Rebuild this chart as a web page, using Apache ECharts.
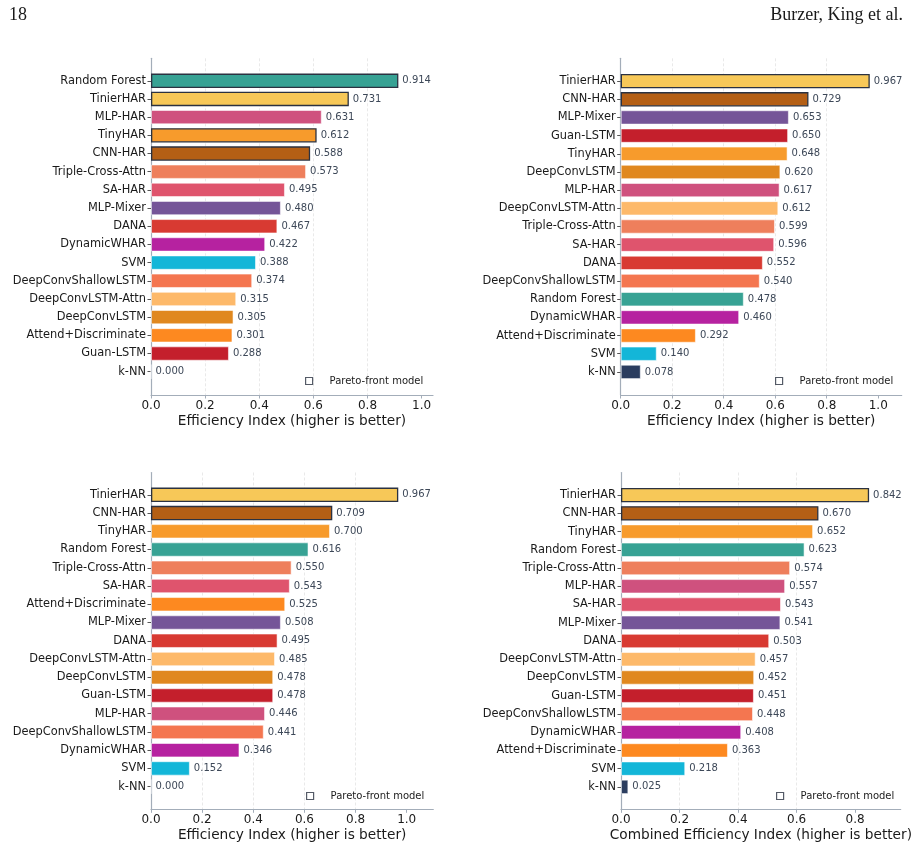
<!DOCTYPE html>
<html>
<head>
<meta charset="utf-8">
<script src="https://cdn.jsdelivr.net/npm/echarts@6/dist/echarts.min.js"></script>
<style>
  html, body { margin: 0; padding: 0; background: #fff; }
  #chart { width: 914px; height: 849px; }
</style>
</head>
<body>
<div id="chart"></div>
<script>
// ---- data ----
const tlNames = ['Random Forest', 'TinierHAR', 'MLP-HAR', 'TinyHAR', 'CNN-HAR', 'Triple-Cross-Attn', 'SA-HAR', 'MLP-Mixer', 'DANA', 'DynamicWHAR', 'SVM', 'DeepConvShallowLSTM', 'DeepConvLSTM-Attn', 'DeepConvLSTM', 'Attend+Discriminate', 'Guan-LSTM', 'k-NN'];
const tlValues = [0.914, 0.731, 0.631, 0.612, 0.588, 0.573, 0.495, 0.480, 0.467, 0.422, 0.388, 0.374, 0.315, 0.305, 0.301, 0.288, 0.000];
const tlPareto = ['Random Forest', 'TinierHAR', 'TinyHAR', 'CNN-HAR'];

const trNames = ['TinierHAR', 'CNN-HAR', 'MLP-Mixer', 'Guan-LSTM', 'TinyHAR', 'DeepConvLSTM', 'MLP-HAR', 'DeepConvLSTM-Attn', 'Triple-Cross-Attn', 'SA-HAR', 'DANA', 'DeepConvShallowLSTM', 'Random Forest', 'DynamicWHAR', 'Attend+Discriminate', 'SVM', 'k-NN'];
const trValues = [0.967, 0.729, 0.653, 0.650, 0.648, 0.620, 0.617, 0.612, 0.599, 0.596, 0.552, 0.540, 0.478, 0.460, 0.292, 0.140, 0.078];
const trPareto = ['TinierHAR', 'CNN-HAR'];

const blNames = ['TinierHAR', 'CNN-HAR', 'TinyHAR', 'Random Forest', 'Triple-Cross-Attn', 'SA-HAR', 'Attend+Discriminate', 'MLP-Mixer', 'DANA', 'DeepConvLSTM-Attn', 'DeepConvLSTM', 'Guan-LSTM', 'MLP-HAR', 'DeepConvShallowLSTM', 'DynamicWHAR', 'SVM', 'k-NN'];
const blValues = [0.967, 0.709, 0.700, 0.616, 0.550, 0.543, 0.525, 0.508, 0.495, 0.485, 0.478, 0.478, 0.446, 0.441, 0.346, 0.152, 0.000];
const blPareto = ['TinierHAR', 'CNN-HAR'];

const brNames = ['TinierHAR', 'CNN-HAR', 'TinyHAR', 'Random Forest', 'Triple-Cross-Attn', 'MLP-HAR', 'SA-HAR', 'MLP-Mixer', 'DANA', 'DeepConvLSTM-Attn', 'DeepConvLSTM', 'Guan-LSTM', 'DeepConvShallowLSTM', 'DynamicWHAR', 'Attend+Discriminate', 'SVM', 'k-NN'];
const brValues = [0.842, 0.670, 0.652, 0.623, 0.574, 0.557, 0.543, 0.541, 0.503, 0.457, 0.452, 0.451, 0.448, 0.408, 0.363, 0.218, 0.025];
const brPareto = ['TinierHAR', 'CNN-HAR'];

const xTicksFull = [0, 0.2, 0.4, 0.6, 0.8, 1.0];
const xTicksShort = [0, 0.2, 0.4, 0.6, 0.8];

// ---- styles ----
const modelColors = {
    'Random Forest': '#37a294',
    'TinierHAR': '#f7c858',
    'MLP-HAR': '#cf517e',
    'TinyHAR': '#f79b2c',
    'CNN-HAR': '#b45f15',
    'Triple-Cross-Attn': '#ee7f5c',
    'SA-HAR': '#df546d',
    'MLP-Mixer': '#755598',
    'DANA': '#d83a32',
    'DynamicWHAR': '#b622a0',
    'SVM': '#13b6d8',
    'DeepConvShallowLSTM': '#f47650',
    'DeepConvLSTM-Attn': '#fdb96a',
    'DeepConvLSTM': '#e0881f',
    'Attend+Discriminate': '#fd8920',
    'Guan-LSTM': '#c41f2c',
    'k-NN': '#2b3d5f'
};

const FONT = 'DejaVu Sans';
const spineColor = '#a3adb9';
const gridColor = '#e3e3e3';
const paretoEdge = '#2b3241';

const panels = [
    { names: tlNames, values: tlValues, pareto: tlPareto, left: 151, width: 282, max: 1.042, ticks: xTicksFull,
      top: 58.3, bottom: 395, barTop: 71.7, barBottom: 380.8, title: 'Efficiency Index (higher is better)', legend: [300, 371] },
    { names: trNames, values: trValues, pareto: trPareto, left: 620.7, width: 281, max: 1.091, ticks: xTicksFull,
      top: 58.3, bottom: 395, barTop: 72, barBottom: 381, title: 'Efficiency Index (higher is better)', legend: [770, 371] },
    { names: blNames, values: blValues, pareto: blPareto, left: 151, width: 282.3, max: 1.104, ticks: xTicksFull,
      top: 472.5, bottom: 809.3, barTop: 485.7, barBottom: 795.8, title: 'Efficiency Index (higher is better)', legend: [301, 786] },
    { names: brNames, values: brValues, pareto: brPareto, left: 621, width: 281.7, max: 0.956, ticks: xTicksShort,
      top: 472.5, bottom: 809.3, barTop: 486, barBottom: 796, title: 'Combined Efficiency Index (higher is better)', legend: [771, 786] }
];

const grid = [], xAxis = [], yAxis = [], series = [], legend = [];

panels.forEach((p, i) => {
    const gb = 2 * i, ga = 2 * i + 1;
    // grid for bars (category band area)
    grid.push({ left: p.left, width: p.width, top: p.barTop, height: p.barBottom - p.barTop, containLabel: false });
    // grid for spines / ticks / gridlines
    grid.push({ left: p.left, width: p.width, top: p.top, height: p.bottom - p.top, containLabel: false });

    xAxis.push({
        type: 'value', gridIndex: gb, min: 0, max: p.max, show: false
    });
    xAxis.push({
        type: 'value', gridIndex: ga, min: 0, max: p.max,
        name: p.title, nameLocation: 'middle', nameGap: 19,
        nameTextStyle: { fontFamily: FONT, fontSize: 13.7, color: '#1a1a1a' },
        axisLine: { show: true, onZero: false, lineStyle: { color: spineColor, width: 1.2 } },
        axisTick: { show: true, length: 3.5, customValues: p.ticks, lineStyle: { color: spineColor } },
        axisLabel: {
            customValues: p.ticks, margin: 5, fontFamily: FONT, fontSize: 12, color: '#1a1a1a',
            formatter: v => v.toFixed(1)
        },
        splitLine: { show: true, showMinLine: false, showMaxLine: false,
            lineStyle: { color: gridColor, type: [3, 2], width: 0.8 } }
    });

    yAxis.push({
        type: 'category', gridIndex: gb, inverse: true, data: p.names,
        axisLine: { show: false },
        axisTick: { show: true, alignWithLabel: true, length: 3.5, lineStyle: { color: '#555', width: 1 } },
        axisLabel: { margin: 5, fontFamily: FONT, fontSize: 11.4, color: '#1a1a1a' },
        splitLine: { show: false }
    });
    yAxis.push({
        type: 'value', gridIndex: ga, min: 0, max: 1,
        axisLine: { show: true, onZero: false, lineStyle: { color: spineColor, width: 1.2 } },
        axisTick: { show: false }, axisLabel: { show: false }, splitLine: { show: false }
    });

    series.push({
        type: 'bar',
        xAxisIndex: gb, yAxisIndex: gb,
        barWidth: '79%',
        data: p.values.map((v, k) => {
            const name = p.names[k];
            const isPareto = p.pareto.indexOf(name) >= 0;
            return {
                value: v,
                itemStyle: {
                    color: modelColors[name],
                    borderColor: isPareto ? paretoEdge : 'rgba(255,255,255,0.55)',
                    borderWidth: isPareto ? 1.3 : 1
                }
            };
        }),
        label: {
            show: true, position: 'right', distance: 4,
            fontFamily: FONT, fontSize: 10, color: '#3d4858',
            formatter: prm => prm.value.toFixed(3)
        },
        silent: true,
        animation: false
    });

    legend.push({
        left: p.legend[0], top: p.legend[1],
        data: ['Pareto-front model'],
        orient: 'vertical',
        icon: 'path://M0,0L10,0L10,10L0,10Z',
        itemWidth: 31, itemHeight: 7,
        itemStyle: { color: 'transparent', borderColor: paretoEdge, borderWidth: 1.2 },
        textStyle: { fontFamily: FONT, fontSize: 10, color: '#1a1a1a' },
        selectedMode: false
    });
});

// dummy series that only feeds the legend entry
series.push({
    name: 'Pareto-front model', type: 'scatter', xAxisIndex: 0, yAxisIndex: 0, data: [],
    itemStyle: { color: 'transparent', borderColor: paretoEdge, borderWidth: 1.2 }
});

const chart = echarts.init(document.getElementById('chart'), null, { renderer: 'canvas' });
chart.setOption({
    animation: false,
    backgroundColor: '#ffffff',
    title: [
        { text: '18', left: 4, top: 1, textStyle: { fontFamily: 'Liberation Serif', fontSize: 18, fontWeight: 'normal', color: '#1a1a1a' } },
        { text: 'Burzer, King et al.', right: 6, top: 1, textStyle: { fontFamily: 'Liberation Serif', fontSize: 18, fontWeight: 'normal', color: '#1a1a1a' } }
    ],
    tooltip: { show: false },
    grid: grid,
    xAxis: xAxis,
    yAxis: yAxis,
    legend: legend,
    series: series
});
</script>
</body>
</html>
